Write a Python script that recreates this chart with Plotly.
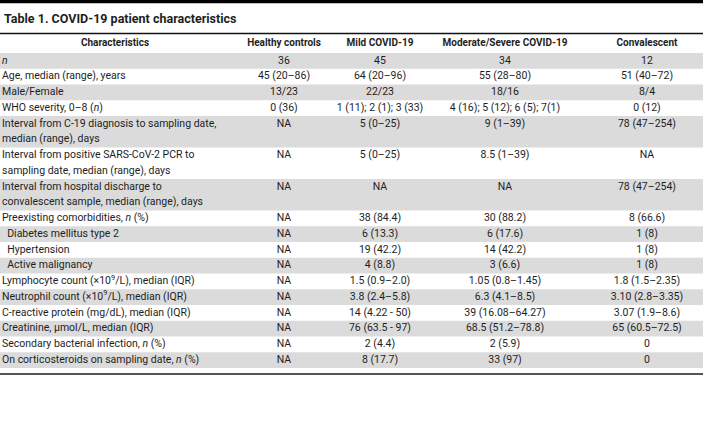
import plotly.graph_objects as go

title = "<b>Table 1. COVID-19 patient characteristics</b>"
headers = ["Characteristics", "Healthy controls", "Mild COVID-19",
           "Moderate/Severe COVID-19", "Convalescent"]

characteristics = [
    "<i>n</i>",
    "Age, median (range), years",
    "Male/Female",
    "WHO severity, 0–8 (<i>n</i>)",
    "Interval from C-19 diagnosis to sampling date,<br>median (range), days",
    "Interval from positive SARS-CoV-2 PCR to<br>sampling date, median (range), days",
    "Interval from hospital discharge to<br>convalescent sample, median (range), days",
    "Preexisting comorbidities, <i>n</i> (%)",
    "\u00a0\u00a0Diabetes mellitus type 2",
    "\u00a0\u00a0Hypertension",
    "\u00a0\u00a0Active malignancy",
    "Lymphocyte count (×10<sup>9</sup>/L), median (IQR)",
    "Neutrophil count (×10<sup>9</sup>/L), median (IQR)",
    "C-reactive protein (mg/dL), median (IQR)",
    "Creatinine, µmol/L, median (IQR)",
    "Secondary bacterial infection, <i>n</i> (%)",
    "On corticosteroids on sampling date, <i>n</i> (%)",
]
healthy = ["36", "45 (20–86)", "13/23", "0 (36)", "NA", "NA", "NA", "NA", "NA",
           "NA", "NA", "NA", "NA", "NA", "NA", "NA", "NA"]
mild = ["45", "64 (20–96)", "22/23", "1 (11); 2 (1); 3 (33)", "5 (0–25)",
        "5 (0–25)", "NA", "38 (84.4)", "6 (13.3)", "19 (42.2)", "4 (8.8)",
        "1.5 (0.9–2.0)", "3.8 (2.4–5.8)", "14 (4.22 - 50)", "76 (63.5 - 97)",
        "2 (4.4)", "8 (17.7)"]
moderate = ["34", "55 (28–80)", "18/16", "4 (16); 5 (12); 6 (5); 7(1)",
            "9 (1–39)", "8.5 (1–39)", "NA", "30 (88.2)", "6 (17.6)",
            "14 (42.2)", "3 (6.6)", "1.05 (0.8–1.45)", "6.3 (4.1–8.5)",
            "39 (16.08–64.27)", "68.5 (51.2–78.8)", "2 (5.9)", "33 (97)"]
convalescent = ["12", "51 (40–72)", "8/4", "0 (12)", "78 (47–254)", "NA",
                "78 (47–254)", "8 (66.6)", "1 (8)", "1 (8)", "1 (8)",
                "1.8 (1.5–2.35)", "3.10 (2.8–3.35)", "3.07 (1.9–8.6)",
                "65 (60.5–72.5)", "0", "0"]

# ---- layout (pixels) ----
W, H = 703, 425
FONT = "Roboto, sans-serif"
FS = 10.5
TXT = "#1e1e1e"
GRAY = "#dbdbdb"
col_centers = [115, 284, 380, 505, 647]
LEFT_X = 2
HEADER_LINE_Y = 33.5
HEADER_Y = 43.5
ROW_TOP = 53
LINE_H = 15.75

fig = go.Figure()

# row geometry from line counts
row_lines = [c.count("<br>") + 1 for c in characteristics]
row_tops = []
t = ROW_TOP
for n in row_lines:
    row_tops.append(t)
    t += n * LINE_H
table_bottom = t

# alternating row shading
for i, (top, n) in enumerate(zip(row_tops, row_lines)):
    if i % 2 == 0:
        fig.add_shape(type="rect", xref="x", yref="y", x0=0, x1=W,
                      y0=top, y1=top + n * LINE_H, fillcolor=GRAY,
                      line=dict(width=0), layer="below")

# horizontal rules as line traces
rules = [(1.6, "#000000", 3.5), (HEADER_LINE_Y, "#111111", 1.5),
         (table_bottom + 6, "#555555", 1.8)]
for ry, rc, rw in rules:
    fig.add_trace(go.Scatter(x=[-5, W + 5], y=[ry, ry], mode="lines",
                             line=dict(color=rc, width=rw), hoverinfo="skip",
                             cliponaxis=False))

# first column: each wrapped line placed on its own line slot
cx, cy, ct = [], [], []
for top, text in zip(row_tops, characteristics):
    for k, part in enumerate(text.split("<br>")):
        cx.append(LEFT_X)
        cy.append(top + (k + 0.5) * LINE_H)
        ct.append(part)
fig.add_trace(go.Scatter(x=cx, y=cy, text=ct, mode="text",
                         textposition="middle right", hoverinfo="skip",
                         textfont=dict(family=FONT, size=FS, color=TXT)))

# value columns (top line of each row)
first_line_y = [top + 0.5 * LINE_H for top in row_tops]
for xc, vals in zip(col_centers[1:], [healthy, mild, moderate, convalescent]):
    fig.add_trace(go.Scatter(x=[xc] * len(vals), y=first_line_y, text=vals,
                             mode="text", textposition="middle center",
                             hoverinfo="skip",
                             textfont=dict(family=FONT, size=FS, color=TXT)))

# header
fig.add_trace(go.Scatter(x=col_centers, y=[HEADER_Y] * len(headers),
                         text=["<b>%s</b>" % h for h in headers], mode="text",
                         textposition="middle center", hoverinfo="skip",
                         textfont=dict(family=FONT, size=10, color=TXT)))

# title
fig.add_annotation(text=title, xref="x", yref="y", x=LEFT_X, y=18,
                   xanchor="left", yanchor="middle", showarrow=False,
                   font=dict(family=FONT, size=12.5, color=TXT))

fig.update_layout(width=W, height=H, margin=dict(l=0, r=0, t=0, b=0),
                  paper_bgcolor="white", plot_bgcolor="white",
                  showlegend=False, hovermode=False,
                  xaxis=dict(range=[0, W], visible=False, fixedrange=True),
                  yaxis=dict(range=[H, 0], visible=False, fixedrange=True))
fig.write_html("out.html", config={"displayModeBar": False},
               post_script="document.body.style.margin='0';"
                           "document.body.style.overflow='hidden';")
